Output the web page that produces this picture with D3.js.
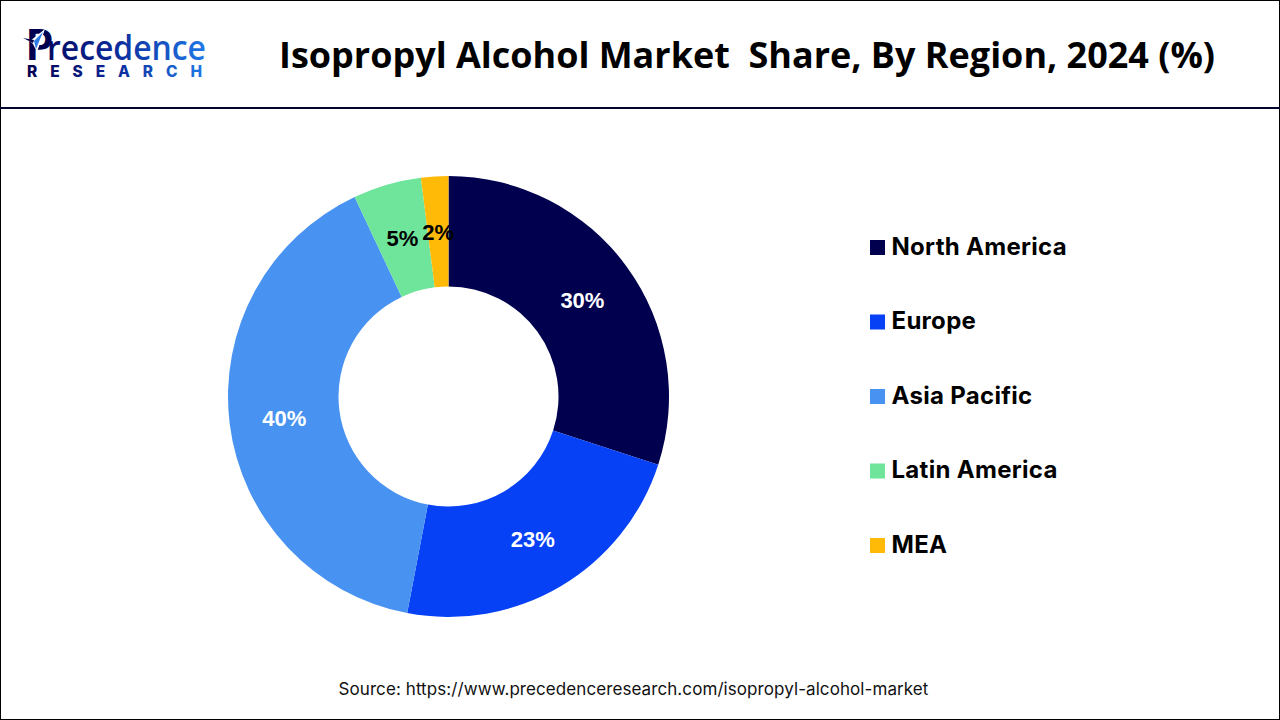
<!DOCTYPE html>
<html><head><meta charset="utf-8">
<script src="https://cdn.jsdelivr.net/npm/d3@7"></script>
<style>html,body{margin:0;padding:0;background:#fff;overflow:hidden}svg{display:block}</style>
</head><body><svg id="c" width="1280" height="720"></svg>
<script>
const categories = ["North America","Europe","Asia Pacific","Latin America","MEA"];
const shares = [30,23,40,5,2];
const colors = ["#00004f","#0641f5","#4892f1","#6fe49b","#ffba08"];
const labelColors = ["#fff","#fff","#fff","#000","#000"];
const titleText = "Isopropyl Alcohol Market  Share, By Region, 2024 (%)";
const sourceText = "Source: https://www.precedenceresearch.com/isopropyl-alcohol-market";

const svg = d3.select("#c");
svg.append("rect").attr("x",.5).attr("y",.5).attr("width",1279).attr("height",719).attr("fill","#fff").attr("stroke","#000").attr("stroke-width",1);
svg.append("rect").attr("x",0).attr("y",107).attr("width",1280).attr("height",2).attr("fill","#05052b");

const defs = svg.append("defs");
const g1 = defs.append("linearGradient").attr("id","lg").attr("gradientUnits","userSpaceOnUse").attr("x1",25).attr("x2",205).attr("y1",0).attr("y2",0);
g1.append("stop").attr("offset","0").attr("stop-color","#00004f");
g1.append("stop").attr("offset","0.5").attr("stop-color","#0a2a9a");
g1.append("stop").attr("offset","1").attr("stop-color","#1f78e6");

// logo
const logo = svg.append("g");
const word = logo.append("text").attr("x",26).attr("y",60).attr("font-family","'Open Sans', sans-serif").attr("fill","url(#lg)");
word.append("tspan").attr("font-family","Lato, sans-serif").attr("font-weight",900).attr("font-size",42).attr("fill","#00004f").text("P");
word.append("tspan").attr("x",47).attr("font-weight",600).attr("font-size",34).attr("textLength",159).attr("lengthAdjust","spacingAndGlyphs").text("recedence");
logo.append("text").attr("x",27).attr("y",77).attr("font-family","Inter, sans-serif").attr("font-weight",800).attr("font-size",15.5).attr("textLength",175).attr("fill","url(#lg)").text("RESEARCH");
logo.append("path").attr("d",d3.line()([[30,41],[45,29],[37,52],[33,44]])+"Z").attr("fill","#fff");
logo.append("path").attr("d",d3.line()([[23,38],[34,40],[33,43]])+"Z").attr("fill","#00004f");
logo.append("path").attr("d",d3.line()([[43,32],[36,49],[34,41]])+"Z").attr("fill","#2f7be8");

svg.append("text").attr("x",747).attr("y",68).attr("text-anchor","middle")
  .attr("font-family","'Open Sans', sans-serif").attr("font-weight",700).attr("font-size",36).attr("textLength",936).attr("lengthAdjust","spacingAndGlyphs").attr("fill","#000")
  .style("white-space","pre").text(titleText);

// donut
const cx=448.5, cy=396.5, R=220.5, r=110;
const pie = d3.pie().sort(null).value(d=>d)(shares);
const arc = d3.arc().innerRadius(r).outerRadius(R);
const donut = svg.append("g").attr("transform",`translate(${cx},${cy})`);
donut.selectAll("path").data(pie).join("path").attr("d",arc).attr("fill",(d,i)=>colors[i]);
const labelR = 165.5;
const labelArc = d3.arc().innerRadius(labelR).outerRadius(labelR);
donut.selectAll("text").data(pie).join("text")
  .attr("transform",d=>`translate(${labelArc.centroid(d)})`)
  .attr("text-anchor","middle").attr("dy","0.38em")
  .attr("font-family","'Liberation Sans', sans-serif").attr("font-weight",700).attr("font-size",22)
  .attr("fill",(d,i)=>labelColors[i]).text((d,i)=>shares[i]+"%");

// legend
const legendY = d3.scalePoint().domain(categories).range([247,545]);
const leg = svg.append("g").selectAll("g").data(categories).join("g").attr("transform",d=>`translate(870,${legendY(d)})`);
leg.append("rect").attr("x",0).attr("y",-7).attr("width",15).attr("height",15).attr("fill",(d,i)=>colors[i]);
leg.append("text").attr("x",21.5).attr("y",7.5).attr("font-family","Inter, sans-serif").attr("font-weight",700).attr("font-size",24).attr("letter-spacing",0.3).attr("fill","#000").text(d=>d);

svg.append("text").attr("x",633.5).attr("y",694.5).attr("text-anchor","middle")
  .attr("font-family","Inter, sans-serif").attr("font-size",17).attr("letter-spacing",0.08).attr("fill","#111").text(sourceText);
</script></body></html>
